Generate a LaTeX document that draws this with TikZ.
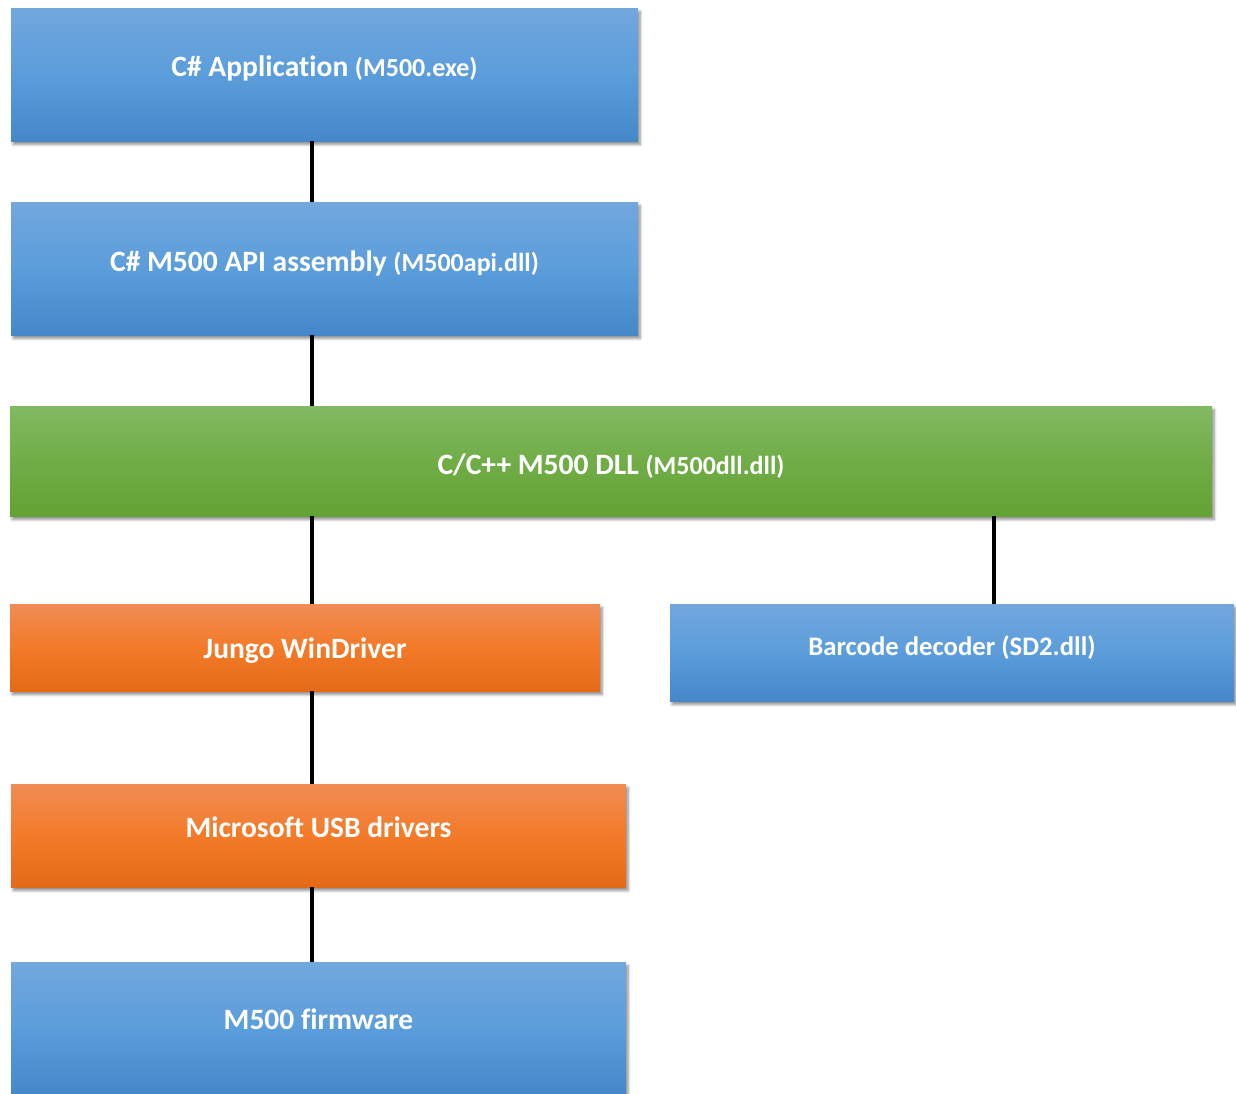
\documentclass[tikz,border=0pt]{standalone}
\usepackage{fontspec}
\setmainfont{Carlito}[Ligatures=NoCommon]
\usetikzlibrary{shadows.blur}
\definecolor{layerBlueTop}   {RGB}{114, 167, 221}
\definecolor{layerBlueMid}   {RGB}{ 91, 157, 219}
\definecolor{layerBlueBot}   {RGB}{ 68, 136, 202}
\definecolor{layerGreenTop}  {RGB}{130, 185,  98}
\definecolor{layerGreenMid}  {RGB}{112, 173,  71}
\definecolor{layerGreenBot}  {RGB}{ 99, 162,  52}
\definecolor{layerOrangeTop} {RGB}{240, 140,  85}
\definecolor{layerOrangeMid} {RGB}{243, 122,  40}
\definecolor{layerOrangeBot} {RGB}{228, 106,  24}

\begin{document}
\begin{tikzpicture}[x=0.025cm,y=-0.025cm,
    layer/.style={rectangle,inner sep=0pt,text=white,text depth=10pt,
      font=\bfseries\fontsize{21}{25}\selectfont,
      blur shadow={shadow xshift=1.5pt,shadow yshift=-2.5pt,
                   shadow blur steps=6,shadow opacity=45}},
    blueLayer/.style={layer,top color=layerBlueTop,
      bottom color=layerBlueBot,middle color=layerBlueMid},
    greenLayer/.style={layer,top color=layerGreenTop,
      bottom color=layerGreenBot,middle color=layerGreenMid},
    orangeLayer/.style={layer,top color=layerOrangeTop,
      bottom color=layerOrangeBot,middle color=layerOrangeMid},
    link/.style={line width=2.5pt,black}]
        \useasboundingbox (0,0) rectangle (1236,1093);

        % Camadas C#
        \node[blueLayer,text height=13.3pt,
              minimum width=627*0.025cm,minimum height=133*0.025cm]
          (app) at (324.5,74.5)
          {C\# Application {\fontsize{18.5}{22}\selectfont(M500.exe)}};
        \node[blueLayer,text height=14.8pt,
              minimum width=627*0.025cm,minimum height=133*0.025cm]
          (api) at (324.5,268.5)
          {C\# M500 API assembly {\fontsize{18.5}{22}\selectfont(M500api.dll)}};

        % DLL nativa
        \node[greenLayer,text height=29.7pt,
              minimum width=1202*0.025cm,minimum height=110*0.025cm]
          (dll) at (611,461)
          {C/C++ M500 DLL {\fontsize{18.5}{22}\selectfont(M500dll.dll)}};

        % Drivers
        \node[orangeLayer,text height=25.4pt,
              minimum width=590*0.025cm,minimum height=87*0.025cm]
          (jungo) at (305,647.5) {Jungo WinDriver};
        \node[blueLayer,font=\bfseries\fontsize{19}{23}\selectfont,text height=14.9pt,
              minimum width=564*0.025cm,minimum height=97*0.025cm]
          (barcode) at (952,652.5) {Barcode decoder (SD2.dll)};
        \node[orangeLayer,text height=13.3pt,
              minimum width=615*0.025cm,minimum height=103*0.025cm]
          (usb) at (318.5,835.5) {Microsoft USB drivers};

        % Firmware
        \node[blueLayer,text height=11.9pt,
              minimum width=615*0.025cm,minimum height=133*0.025cm]
          (fw) at (318.5,1028.5) {M500 firmware};

        % Ligacoes
        \coordinate (spine) at (312,0);
        \coordinate (tap) at (994,0);
        \draw[link] (app.south -| spine) -- (api.north -| spine);
        \draw[link] (api.south -| spine) -- (dll.north -| spine);
        \draw[link] (dll.south -| spine) -- (jungo.north -| spine);
        \draw[link] (dll.south -| tap) -- (barcode.north -| tap);
        \draw[link] (jungo.south -| spine) -- (usb.north -| spine);
        \draw[link] (usb.south -| spine) -- (fw.north -| spine);
      \end{tikzpicture}
\end{document}
